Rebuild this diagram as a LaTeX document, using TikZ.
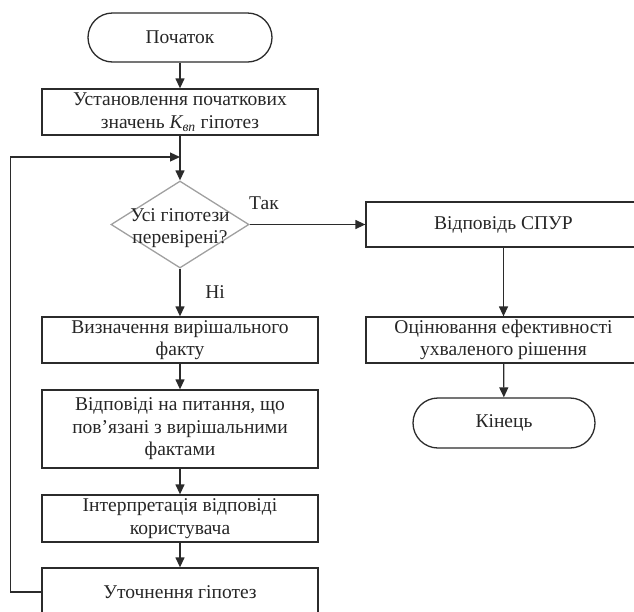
\documentclass[tikz,border=0pt]{standalone}
\usepackage{fontspec}
\setmainfont{Liberation Serif}
\usetikzlibrary{shapes.geometric,arrows.meta}

\begin{document}
\begin{tikzpicture}[x=1pt, y=-1pt,
    every node/.style={font=\fontsize{19.5}{22.5}\selectfont, text=textColour},
    block/.style={draw=borderColour, line width=1.3pt, rectangle, align=center, inner sep=1pt},
    terminal/.style={draw=borderColour, line width=1.3pt, rectangle, rounded corners=24.5pt, minimum width=184pt, minimum height=49pt},
    decision/.style={draw=diamondColour, line width=1.3pt, diamond, inner sep=0pt, minimum width=138pt, minimum height=87pt},
    flow/.style={draw=borderColour, line width=1.3pt, -{Triangle[length=10pt,width=9pt]}},
    link/.style={draw=borderColour, line width=1.3pt}]
    \definecolor{borderColour}{HTML}{2B2B2B}
    \definecolor{diamondColour}{HTML}{A0A0A0}
    \definecolor{textColour}{HTML}{262626}

    \def\boxWidth{276pt}

    % Page and clip
    \useasboundingbox (0,0) rectangle (634,611);
    \clip (0,0) rectangle (634,611);

    % Left column
    \node[terminal] (start) at (180,37.5) {Початок};
    \node[block, minimum width=\boxWidth, minimum height=46pt] (init) at (180,112)
        {Установлення початкових\\значень {\itshape K}\textsubscript{\itshape вп} гіпотез};
    \node[decision] (check) at (180,224.5) {};
    \node[align=center, inner sep=0pt] (checktext) at (180,228) {Усі гіпотези\\перевірені?};
    \node[block, minimum width=\boxWidth, minimum height=46pt] (fact) at (180,340)
        {Визначення вирішального\\факту};
    \node[block, minimum width=\boxWidth, minimum height=78pt] (answers) at (180,429)
        {Відповіді на питання, що\\пов’язані з вирішальними\\фактами};
    \node[block, minimum width=\boxWidth, minimum height=47pt] (interp) at (180,518.5)
        {Інтерпретація відповіді\\користувача};
    \node[block, minimum width=\boxWidth, minimum height=48pt] (refine) at (180,592)
        {Уточнення гіпотез};

    % Right column
    \node[block, minimum width=275pt, minimum height=45pt] (spur) at (503.5,224.5) {Відповідь СПУР};
    \node[block, minimum width=275pt, minimum height=46pt] (eval) at (503.5,340)
        {Оцінювання ефективності\\ухваленого рішення};
    \node[terminal, minimum width=182pt, minimum height=50pt, rounded corners=25pt] (finish) at (504,423) {Кінець};

    % Branch labels
    \node (yes) at (264,203) {Так};
    \node (no) at (215,292) {Ні};

    % Draw connectors
    \coordinate (merge) at (180,157);
    \draw[flow] (start) -- (init);
    \draw[flow] (init) -- (check);
    \draw[flow] (check) -- (fact);
    \draw[flow] (fact) -- (answers);
    \draw[flow] (answers) -- (interp);
    \draw[flow] (interp) -- (refine);
    \draw[flow] (refine.west) -- ++(-31,0) |- (merge);
    \draw[flow] (check.east) -- (spur.west);
    \draw[flow] (spur) -- (eval);
    \draw[flow] (eval) -- (finish);

\end{tikzpicture}
\end{document}
